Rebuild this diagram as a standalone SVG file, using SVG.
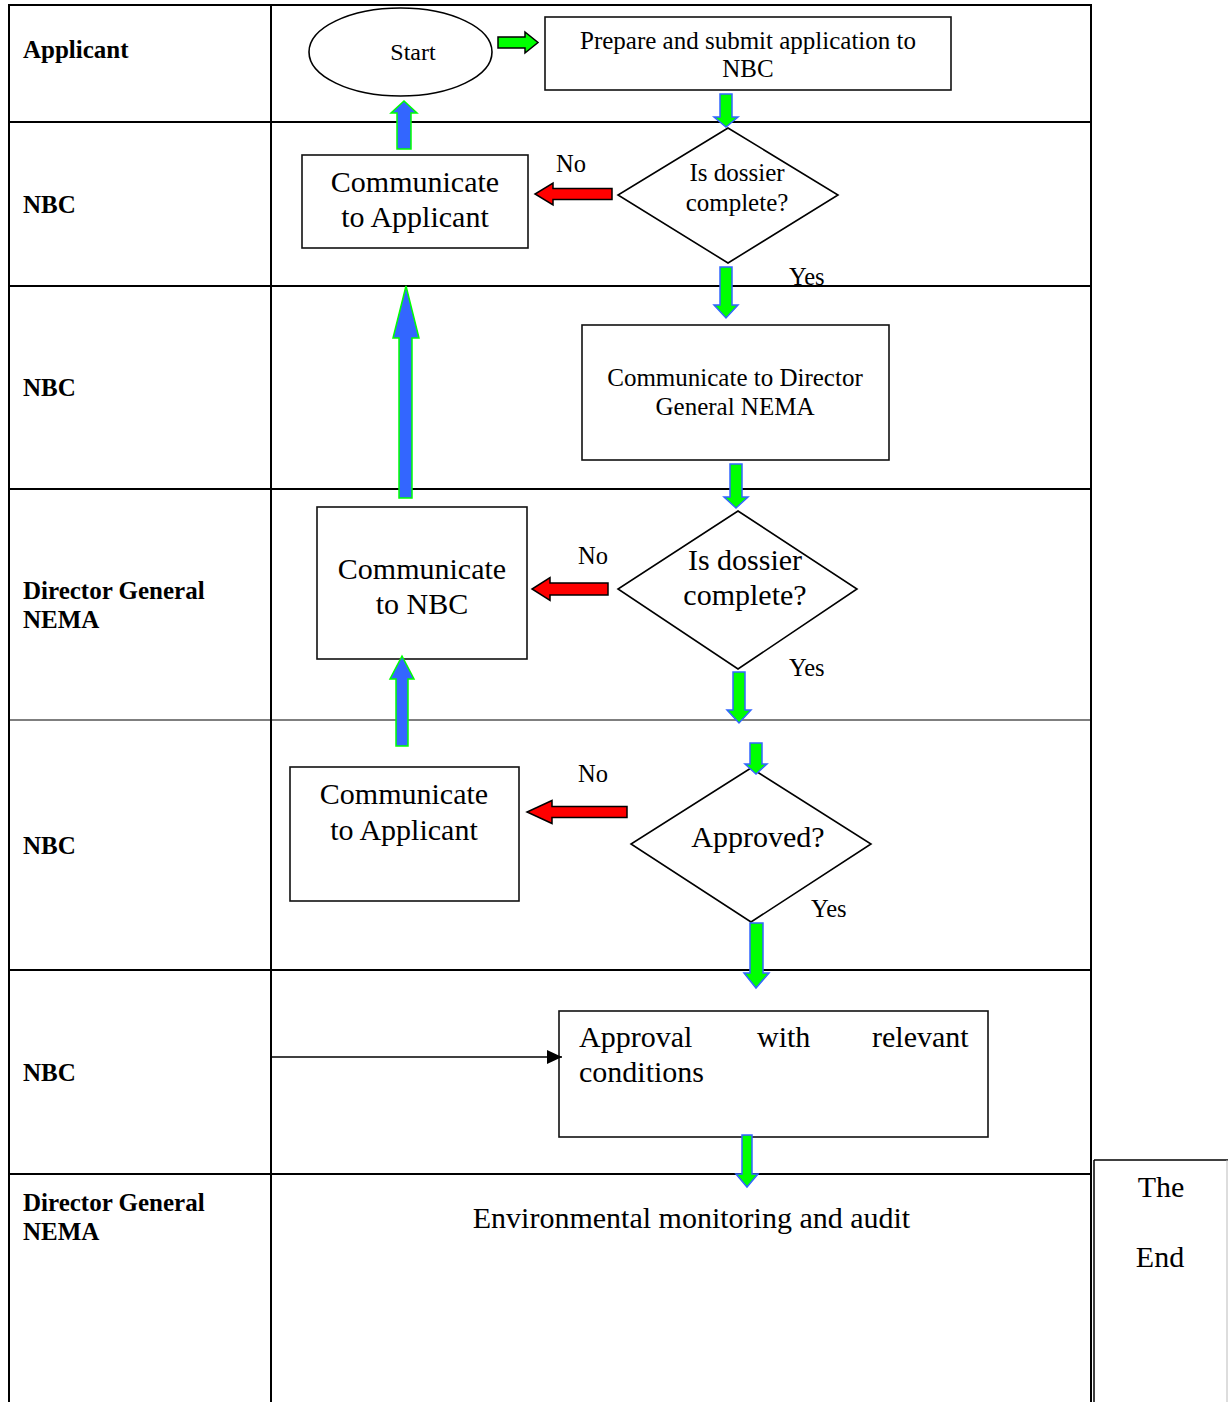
<svg xmlns="http://www.w3.org/2000/svg" width="1228" height="1402" viewBox="0 0 1228 1402">
<style>
  .lane { stroke: #000; stroke-width: 2; fill: none; }
  .thin { stroke: #000; stroke-width: 1.2; fill: none; }
  .box { fill: #fff; stroke: #111; stroke-width: 1.6; }
  .lbl { font-family: "Liberation Serif", "Times New Roman", serif; font-weight: bold; font-size: 25px; fill: #000; }
  .t25 { font-family: "Liberation Serif", "Times New Roman", serif; font-size: 25px; fill: #000; text-anchor: middle; }
  .t30 { font-family: "Liberation Serif", "Times New Roman", serif; font-size: 30px; fill: #000; text-anchor: middle; }
  .t30l { font-family: "Liberation Serif", "Times New Roman", serif; font-size: 30px; fill: #000; }
  .yn { font-family: "Liberation Serif", "Times New Roman", serif; font-size: 24.5px; fill: #000; }
  .gd { fill: #00FF00; stroke: #3366FF; stroke-width: 1.5; }
  .gk { fill: #00FF00; stroke: #000; stroke-width: 1.5; }
  .bu { fill: #3366FF; stroke: #00FF00; stroke-width: 1.5; }
  .rd { fill: #FF0000; stroke: #000; stroke-width: 1.5; }
</style>
<defs>
  <marker id="tri" viewBox="0 0 10 10" refX="10" refY="5" markerWidth="15" markerHeight="14" markerUnits="userSpaceOnUse" orient="auto" preserveAspectRatio="none">
    <path d="M0,0 L10,5 L0,10 z" fill="#000"/>
  </marker>
</defs>
<rect x="0" y="0" width="1228" height="1402" fill="#fff"/>

<g id="lanes">
  <line class="lane" x1="9" y1="5" x2="1091" y2="5"/>
  <line class="lane" x1="9" y1="4" x2="9" y2="1402"/>
  <line class="lane" x1="271" y1="4" x2="271" y2="1402"/>
  <line class="lane" x1="1091" y1="4" x2="1091" y2="1402"/>
  <line class="lane" x1="9" y1="122" x2="1091" y2="122"/>
  <line class="lane" x1="9" y1="286" x2="1091" y2="286"/>
  <line class="lane" x1="9" y1="489" x2="1091" y2="489"/>
  <line class="thin" x1="9" y1="720" x2="1091" y2="720"/>
  <line class="lane" x1="9" y1="970" x2="1091" y2="970"/>
  <line class="lane" x1="9" y1="1174" x2="1091" y2="1174"/>
  <text class="lbl" x="23" y="58">Applicant</text>
  <text class="lbl" x="23" y="213">NBC</text>
  <text class="lbl" x="23" y="396">NBC</text>
  <text class="lbl" x="23" y="599">Director General</text>
  <text class="lbl" x="23" y="628">NEMA</text>
  <text class="lbl" x="23" y="854">NBC</text>
  <text class="lbl" x="23" y="1081">NBC</text>
  <text class="lbl" x="23" y="1211">Director General</text>
  <text class="lbl" x="23" y="1240">NEMA</text>
</g>

<g id="start">
  <ellipse cx="400.5" cy="52" rx="91.5" ry="44" fill="#fff" stroke="#000" stroke-width="1.6"/>
  <text class="t25" x="413" y="60" style="font-size:24px">Start</text>
</g>

<g id="prepare">
  <rect class="box" x="545" y="17" width="406" height="73"/>
  <text class="t25" x="748" y="49">Prepare and submit application to</text>
  <text class="t25" x="748" y="77">NBC</text>
</g>

<g id="decision1">
  <polygon points="728,128 838,195 728,263 618,195" fill="#fff" stroke="#000" stroke-width="1.6"/>
  <text class="t25" x="737" y="181">Is dossier</text>
  <text class="t25" x="737" y="211">complete?</text>
</g>

<g id="comm-applicant-1">
  <rect class="box" x="302" y="155" width="226" height="93"/>
  <text class="t30" x="415" y="192">Communicate</text>
  <text class="t30" x="415" y="227">to Applicant</text>
</g>

<g id="comm-dg">
  <rect class="box" x="582" y="325" width="307" height="135"/>
  <text class="t25" x="735" y="386">Communicate to Director</text>
  <text class="t25" x="735" y="415">General NEMA</text>
</g>

<g id="decision2">
  <polygon points="738,511 857,589 738,669 618,589" fill="#fff" stroke="#000" stroke-width="1.6"/>
  <text class="t30" x="745" y="570">Is dossier</text>
  <text class="t30" x="745" y="605">complete?</text>
</g>

<g id="comm-nbc">
  <rect class="box" x="317" y="507" width="210" height="152"/>
  <text class="t30" x="422" y="579">Communicate</text>
  <text class="t30" x="422" y="614">to NBC</text>
</g>

<g id="decision3">
  <polygon points="751,768 871,844 751,922 631,844" fill="#fff" stroke="#000" stroke-width="1.6"/>
  <text class="t30" x="758" y="847">Approved?</text>
</g>

<g id="comm-applicant-2">
  <rect class="box" x="290" y="767" width="229" height="134"/>
  <text class="t30" x="404" y="804">Communicate</text>
  <text class="t30" x="404" y="840">to Applicant</text>
</g>

<g id="approval">
  <rect class="box" x="559" y="1011" width="429" height="126"/>
  <text class="t30l" x="579" y="1047">Approval</text>
  <text class="t30l" x="757" y="1047">with</text>
  <text class="t30l" x="872" y="1047">relevant</text>
  <text class="t30l" x="579" y="1082">conditions</text>
</g>

<g id="monitoring">
  <text class="t30" x="691.5" y="1228">Environmental monitoring and audit</text>
</g>

<g id="end">
  <line x1="1094" y1="1160" x2="1094" y2="1402" stroke="#000" stroke-width="1.5"/>
  <line x1="1094" y1="1160" x2="1228" y2="1160" stroke="#000" stroke-width="1.5"/>
  <line x1="1227" y1="1160" x2="1227" y2="1402" stroke="#bbb" stroke-width="1"/>
  <text class="t30" x="1161" y="1197">The</text>
  <text class="t30" x="1160" y="1267">End</text>
</g>

<g id="connectors">
  <polygon class="gk" points="498,37 525,37 525,32 538,42.5 525,53 525,48 498,48"/>
  <polygon class="gd" points="720,94 732,94 732,117 738,117 726,127 714,117 720,117"/>
  <polygon class="gd" points="720,267 732,267 732,305 738,305 726,318 714,305 720,305"/>
  <polygon class="rd" points="612,188.5 553,188.5 553,183 535,194 553,205 553,199.5 612,199.5"/>
  <polygon class="bu" points="397,149 411,149 411,113 417,113 404,101 391,113 397,113"/>
  <polygon class="bu" points="399,498 412,498 412,338 419,338 406,286 393,338 399,338"/>
  <polygon class="gd" points="730,464 742,464 742,497 748,497 736,508 724,497 730,497"/>
  <polygon class="rd" points="608,583 550,583 550,577.5 532,589 550,600.5 550,595 608,595"/>
  <polygon class="gd" points="733,672 745,672 745,710 751,710 739,723 727,710 733,710"/>
  <polygon class="gd" points="750,743 762,743 762,764 767,764 756,774 745,764 750,764"/>
  <polygon class="rd" points="627,806.5 552,806.5 552,800.5 527,812 552,823.5 552,817.5 627,817.5"/>
  <polygon class="bu" points="396,746 408,746 408,679 414,679 402,656 390,679 396,679"/>
  <polygon class="gd" points="750,923 763,923 763,973 769,973 756,988 744,973 750,973"/>
  <polygon class="gd" points="742,1135 752,1135 752,1174 758,1174 747,1187 736,1174 742,1174"/>
  <line x1="271" y1="1057" x2="562" y2="1057" stroke="#000" stroke-width="1.5" marker-end="url(#tri)"/>
  <text class="yn" x="556" y="172">No</text>
  <text class="yn" x="789" y="285">Yes</text>
  <text class="yn" x="578" y="564">No</text>
  <text class="yn" x="789" y="676">Yes</text>
  <text class="yn" x="578" y="782">No</text>
  <text class="yn" x="811" y="917">Yes</text>
</g>
</svg>
